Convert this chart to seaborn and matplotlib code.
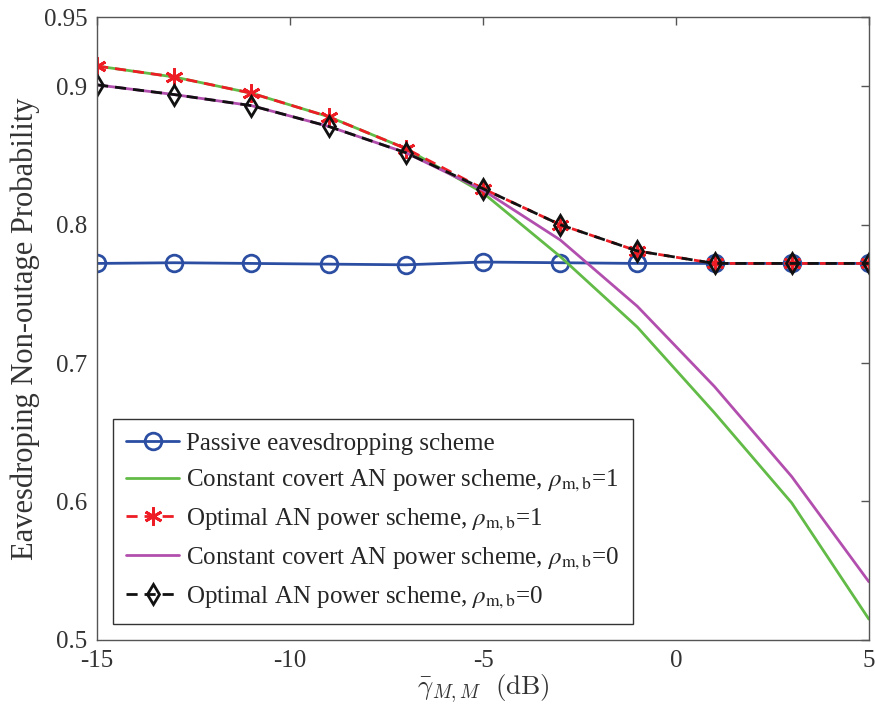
import numpy as np
import pandas as pd
import seaborn as sns
import matplotlib.pyplot as plt

# x axis: average SNR in dB
snr_db = [-15, -13, -11, -9, -7, -5, -3, -1, 1, 3, 5]

passive = [0.772, 0.7725, 0.772, 0.7715, 0.771, 0.773, 0.7725, 0.772, 0.772, 0.772, 0.772]
const_rho1 = [0.9146, 0.9067, 0.895, 0.878, 0.855, 0.823, 0.777, 0.726, 0.664, 0.599, 0.515]
opt_rho1 = [0.9146, 0.9067, 0.895, 0.878, 0.855, 0.826, 0.800, 0.781, 0.772, 0.772, 0.772]
const_rho0 = [0.901, 0.894, 0.886, 0.871, 0.852, 0.825, 0.789, 0.741, 0.683, 0.618, 0.542]
opt_rho0 = [0.901, 0.894, 0.886, 0.871, 0.852, 0.826, 0.800, 0.781, 0.772, 0.772, 0.772]

labels = [
    "Passive eavesdropping scheme",
    r"Constant covert AN power scheme, $\rho_{\mathrm{m,b}}$=1",
    r"Optimal AN power scheme, $\rho_{\mathrm{m,b}}$=1",
    r"Constant covert AN power scheme, $\rho_{\mathrm{m,b}}$=0",
    r"Optimal AN power scheme, $\rho_{\mathrm{m,b}}$=0",
]

sns.set_style("white")
plt.rcParams["font.family"] = ["Liberation Serif", "DejaVu Serif"]
plt.rcParams["mathtext.fontset"] = "stix"

fig = plt.figure(figsize=(8.75, 7.11), dpi=100)
ax = fig.add_axes([0.111, 0.1, 0.882, 0.876])

blue = "#2B4EA2"
green = "#62BB46"
red = "#EE1D25"
purple = "#B24FAE"
dash = (0, (4, 2.5))

sns.lineplot(x=snr_db, y=passive, ax=ax, color=blue, lw=2, marker="o", markersize=12,
             markerfacecolor="none", markeredgecolor=blue, markeredgewidth=2, label=labels[0])
sns.lineplot(x=snr_db, y=const_rho1, ax=ax, color=green, lw=2, label=labels[1])
sns.lineplot(x=snr_db, y=opt_rho1, ax=ax, color=red, lw=2, marker=(6, 2, 0), markersize=13,
             markeredgecolor=red, markeredgewidth=2, label=labels[2])
sns.lineplot(x=snr_db, y=const_rho0, ax=ax, color=purple, lw=2, label=labels[3])
sns.lineplot(x=snr_db, y=opt_rho0, ax=ax, color="#111111", lw=2, marker="d", markersize=10,
             markerfacecolor="none", markeredgecolor="#111111", markeredgewidth=2, label=labels[4])

ax.lines[2].set_linestyle(dash)
ax.lines[4].set_linestyle(dash)

ax.set_xlim(-15, 5)
ax.set_ylim(0.5, 0.95)
ax.set_xticks([-15, -10, -5, 0, 5])
ax.set_xticklabels(["-15", "-10", "-5", "0", "5"])
ax.set_yticks([0.5, 0.6, 0.7, 0.8, 0.9, 0.95])
ax.set_yticklabels(["0.5", "0.6", "0.7", "0.8", "0.9", "0.95"])

ax.tick_params(direction="in", length=6, width=1, colors="#555555", labelcolor="#333333",
               labelsize=18, top=True, right=True, pad=7)
for sp in ax.spines.values():
    sp.set_color("#555555")
    sp.set_linewidth(1)

ax.set_xlabel(r"$\bar{\gamma}_{M,M}\ \ \mathrm{(dB)}$", fontsize=19.5, color="#333333",
              labelpad=1, math_fontfamily="cm")
ax.set_ylabel("Eavesdroping Non-outage Probability", fontsize=22, color="#333333", labelpad=3)

leg = ax.legend(loc="lower left", bbox_to_anchor=(0.004, 0.005), fontsize=18,
                frameon=True, fancybox=False, edgecolor="#333333", framealpha=1,
                handlelength=2.1, handletextpad=0.3, borderpad=0.55, labelspacing=0.5)
leg.get_frame().set_linewidth(1)

fig.savefig("out.png", dpi=100)
